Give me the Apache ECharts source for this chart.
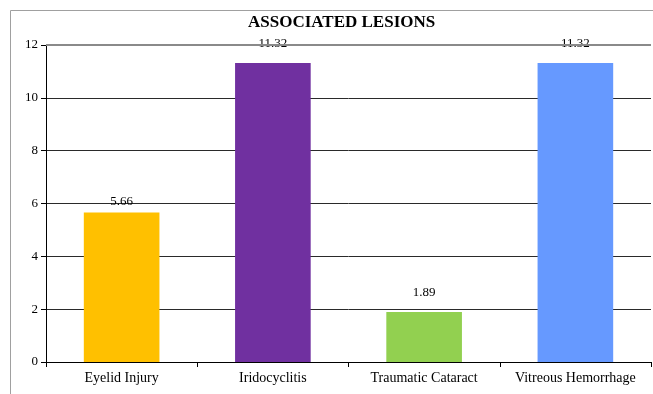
<!DOCTYPE html>
<html>
<head>
<meta charset="utf-8">
<script src="https://cdn.jsdelivr.net/npm/echarts@6/dist/echarts.min.js"></script>
<style>
  html, body { margin: 0; padding: 0; background: #fff; }
  #chart { width: 653px; height: 394px; }
</style>
</head>
<body>
<div id="chart"></div>
<script>
// Associated lesions, percent of cases
const categories = ['Eyelid Injury', 'Iridocyclitis', 'Traumatic Cataract', 'Vitreous Hemorrhage'];
const values = [5.66, 11.32, 1.89, 11.32];
const barColors = ['#FFC000', '#7030A0', '#92D050', '#6699FF'];
const labelGaps = [4, 13, 13, 13];
const yTicks = [0, 2, 4, 6, 8, 10, 12];

const chart = echarts.init(document.getElementById('chart'));
const font = 'Liberation Serif, Times New Roman, serif';
const yMax = yTicks[yTicks.length - 1];

chart.setOption({
  animation: false,
  textStyle: { fontFamily: font },
  graphic: [{
    type: 'rect',
    shape: { x: 10.5, y: 10.5, width: 700, height: 420 },
    style: { fill: 'none', stroke: '#a0a0a0', lineWidth: 1 },
    silent: true
  }],
  title: {
    text: 'ASSOCIATED LESIONS',
    left: 243,
    top: 9,
    textStyle: { fontFamily: font, fontSize: 17, fontWeight: 'bold', color: '#000' }
  },
  grid: { left: 46, right: 2, top: 45, bottom: 32 },
  xAxis: {
    type: 'category',
    data: categories,
    axisLine: { lineStyle: { color: '#000', width: 1 } },
    axisTick: { show: true, length: 5, interval: 0, lineStyle: { color: '#000' } },
    axisLabel: { color: '#000', fontSize: 14, fontFamily: font, margin: 9, interval: 0, hideOverlap: false }
  },
  yAxis: {
    type: 'value',
    min: yTicks[0],
    max: yMax,
    interval: 2,
    axisLine: { show: true, lineStyle: { color: '#000', width: 1 } },
    axisTick: { show: true, length: 5, lineStyle: { color: '#000' } },
    axisLabel: { color: '#000', fontSize: 13, fontFamily: font, margin: 8 },
    splitLine: { show: true, lineStyle: { color: '#2a2a2a', width: 1 } }
  },
  series: [{
    type: 'bar',
    barWidth: '50%',
    data: values.map((v, i) => ({
      value: v,
      itemStyle: { color: barColors[i] },
      label: { distance: labelGaps[i] }
    })),
    label: {
      show: true,
      position: 'top',
      color: '#000',
      fontSize: 13,
      fontFamily: font
    },
    markLine: {
      silent: true,
      symbol: 'none',
      label: { show: false },
      lineStyle: { color: '#8a8a8a', width: 2, type: 'solid' },
      data: [{ yAxis: yMax }]
    }
  }]
});
</script>
</body>
</html>
